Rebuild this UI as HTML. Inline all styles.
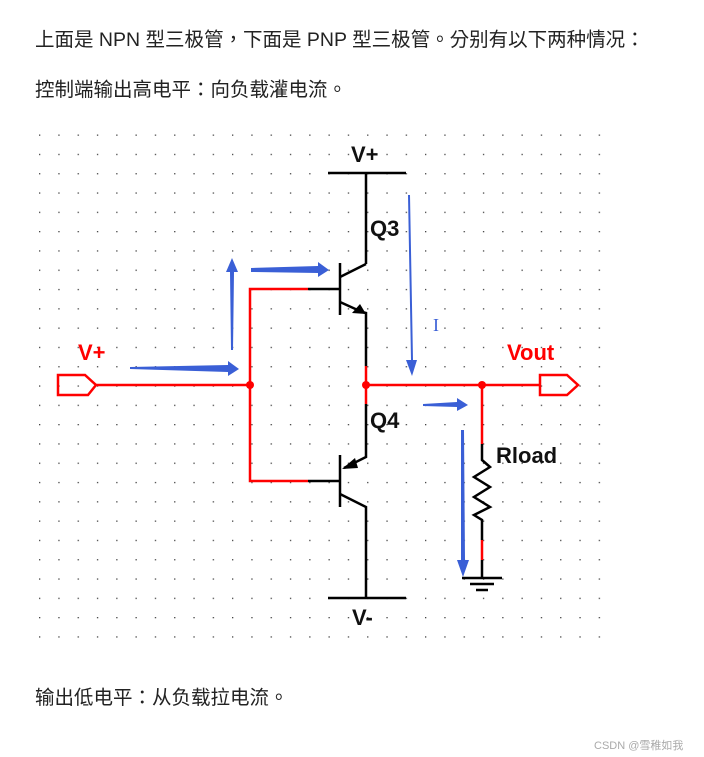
<!DOCTYPE html>
<html><head><meta charset="utf-8"><style>
body{margin:0;width:704px;height:757px;background:#fff;position:relative;overflow:hidden;font-family:"Liberation Sans","Noto Sans CJK TC",sans-serif;color:#222}
.t{position:absolute;left:35px;font-size:19.5px;white-space:nowrap}
</style></head><body>
<div class="t" style="top:23px">上面是 NPN 型三极管，下面是 PNP 型三极管。分别有以下两种情况：</div>
<div class="t" style="top:73px">控制端输出高电平：向负载灌电流。</div>
<div class="t" style="top:681px">输出低电平：从负载拉电流。</div>
<div style="position:absolute;left:594px;top:737px;font-size:11px;color:#aaa">CSDN @雪稚如我</div>
<svg width="704" height="757" style="position:absolute;left:0;top:0">
<defs><pattern id="g" x="39" y="134.5" width="19.3" height="19.3" patternUnits="userSpaceOnUse"><rect x="0" y="0" width="1.3" height="1.3" fill="#444"/></pattern></defs>
<rect x="38" y="133" width="565" height="508" fill="url(#g)"/>
<g stroke="#000" stroke-width="2.5" fill="none">
<line x1="328" y1="173" x2="406" y2="173"/>
<line x1="366" y1="173" x2="366" y2="264"/>
<line x1="340" y1="263" x2="340" y2="315"/>
<polyline points="340,277 366,264"/>
<polyline points="340,302 362,312 366,313 366,366"/>
<line x1="308" y1="289" x2="340" y2="289"/>
<line x1="340" y1="455" x2="340" y2="507"/>
<line x1="308" y1="481" x2="340" y2="481"/>
<polyline points="366,404 366,457 344,468"/>
<polyline points="340,494 366,507 366,598"/>
<line x1="328" y1="598" x2="406" y2="598"/>
<polyline points="482,444 482,460 490,467 474,477 490,487 474,497 490,507 474,515 482,520 482,540"/>
<line x1="482" y1="560" x2="482" y2="578"/>
<line x1="462" y1="578" x2="502" y2="578"/>
<line x1="470" y1="584" x2="494" y2="584"/>
<line x1="476" y1="590" x2="488" y2="590"/>
</g>
<polygon points="366,314 352,313 360,304" fill="#000"/>
<polygon points="342,469 355,458 358,468" fill="#000"/>
<g stroke="#f00" stroke-width="2.5" fill="none">
<polyline points="96,385 250,385"/>
<polyline points="308,289 250,289 250,481 308,481"/>
<line x1="366" y1="366" x2="366" y2="404"/>
<line x1="366" y1="385" x2="540" y2="385"/>
<line x1="482" y1="385" x2="482" y2="444"/>
<line x1="482" y1="540" x2="482" y2="560"/>
<polygon points="58,375 85,375 96,385 88,395 58,395"/>
<polygon points="540,375 567,375 578,385 567,395 540,395"/>
</g>
<circle cx="250" cy="385" r="4" fill="#f00"/>
<circle cx="366" cy="385" r="4" fill="#f00"/>
<circle cx="482" cy="385" r="4" fill="#f00"/>
<g fill="#3a5fd6">
<polygon points="231,350 233,350 234,272 238,272 232,258 226,272 230,272"/>
<polygon points="251,268 318,266 318,262 329,270 318,277 318,273 251,272"/>
<polygon points="130,367 228,365 228,361 239,369 228,376 228,372 130,369"/>
<polygon points="408,195 410,195 413,360 417,360 412,376 406,360 411,360"/>
<polygon points="423,404 457,402 457,398 468,405 457,411 457,407 423,406"/>
<polygon points="461,430 464,430 465,560 469,560 463,577 457,560 461,560"/>
</g>
<text x="433" y="331" font-size="18" fill="#3a5fd6" font-family="Liberation Serif,serif">I</text>
<g font-family="Liberation Sans,sans-serif" font-weight="bold" font-size="22">
<text x="351" y="162" fill="#111">V+</text>
<text x="370" y="236" fill="#111">Q3</text>
<text x="370" y="428" fill="#111">Q4</text>
<text x="496" y="463" fill="#111">Rload</text>
<text x="352" y="625" fill="#111">V-</text>
<text x="78" y="360" fill="#f00">V+</text>
<text x="507" y="360" fill="#f00">Vout</text>
</g>
</svg>
</body></html>
